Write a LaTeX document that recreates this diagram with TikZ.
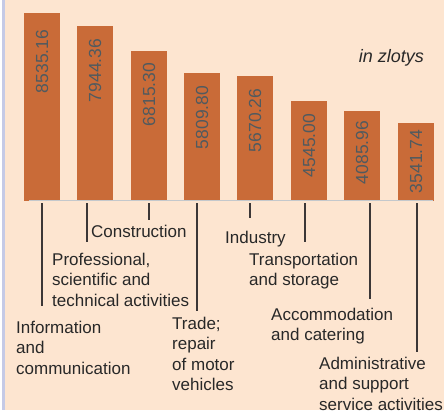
\documentclass[tikz,border=0pt]{standalone}
\usepackage{fontspec}
\setmainfont{Liberation Sans}
\definecolor{bgc}{RGB}{253,229,208}
\definecolor{barc}{RGB}{201,107,56}
\definecolor{numc}{RGB}{80,90,95}
\definecolor{labc}{RGB}{40,40,40}
\definecolor{edgec}{RGB}{197,202,230}
\definecolor{axisc}{RGB}{196,200,204}
\definecolor{tickc}{RGB}{60,55,55}
\begin{document}
\begin{tikzpicture}[x=1pt,y=-1pt,
  bar/.style={rectangle, fill=barc, draw=none, inner sep=0, minimum width=36pt, anchor=south},
  num/.style={rotate=90, anchor=east, inner sep=0, text=numc, font=\fontsize{17.5}{20}\selectfont},
  lab/.style={anchor=north west, inner sep=0, align=left, text=labc, font=\fontsize{17}{20.5}\selectfont},
  tickln/.style={draw=tickc, line width=1.3pt, shorten <=2pt}]
\useasboundingbox (0,0) rectangle (444,410);
\fill[white] (0,0) rectangle (444,410);
\fill[bgc] (2.3,0) rectangle (444,410);
\fill[edgec] (2.3,0) rectangle (5,410);
% bars
\node[bar, minimum height=188pt] (b1) at (42,201) {};
\node[bar, minimum height=175pt] (b2) at (95,201) {};
\node[bar, minimum height=150pt] (b3) at (149,201) {};
\node[bar, minimum height=128pt] (b4) at (202,201) {};
\node[bar, minimum height=125pt] (b5) at (255,201) {};
\node[bar, minimum height=100pt] (b6) at (309,201) {};
\node[bar, minimum height=90pt] (b7) at (362,201) {};
\node[bar, minimum height=78pt] (b8) at (416,201) {};
% values
\node[num] (v1) at ([yshift=-17pt]b1.north) {8535.16};
\node[num] (v2) at ([yshift=-13pt]b2.north) {7944.36};
\node[num] (v3) at ([yshift=-12pt]b3.north) {6815.30};
\node[num] (v4) at ([yshift=-13pt]b4.north) {5809.80};
\node[num] (v5) at ([yshift=-13pt]b5.north) {5670.26};
\node[num] (v6) at ([yshift=-13pt]b6.north) {4545.00};
\node[num] (v7) at ([yshift=-10pt]b7.north) {4085.96};
\node[num] (v8) at ([yshift=-7pt]b8.north) {3541.74};
% axis line
\coordinate (ax0) at (29,200.5);
\coordinate (ax1) at (433,200.5);
\draw[draw=axisc, line width=1.5pt] (ax0) -- (ax1);
% unit
\node[anchor=base east, inner sep=0, text=labc, font=\fontsize{18}{20}\selectfont\itshape] (unit) at (424,62) {in zlotys};
% tick ends
\coordinate (t1) at (42,306);
\coordinate (t2) at (87,242);
\coordinate (t3) at (149,220);
\coordinate (t4) at (197,311);
\coordinate (t5) at (250,218);
\coordinate (t6) at (305,242);
\coordinate (t7) at (370,299);
\coordinate (t8) at (417,352);
\draw[tickln] (b1.south -| t1) -- (t1);
\draw[tickln] (b2.south -| t2) -- (t2);
\draw[tickln] (b3.south -| t3) -- (t3);
\draw[tickln] (b4.south -| t4) -- (t4);
\draw[tickln] (b5.south -| t5) -- (t5);
\draw[tickln] (b6.south -| t6) -- (t6);
\draw[tickln] (b7.south -| t7) -- (t7);
\draw[tickln] (b8.south -| t8) -- (t8);
% labels
\node[lab] (l3) at (91,222.6) {\strut Construction};
\node[lab] (l2) at (52,250.6) {\strut Professional,\\scientific and\\technical activities};
\node[lab] (l1) at (16,318.6) {\strut Information\\and\\communication};
\node[lab] (l4) at (172,314.6) {\strut Trade;\\repair\\of motor\\vehicles};
\node[lab] (l5) at (225,228.6) {\strut Industry};
\node[lab] (l6) at (249,250.6) {\strut Transportation\\and storage};
\node[lab] (l7) at (271,305.6) {\strut Accommodation\\and catering};
\node[lab] (l8) at (319,354.6) {\strut Administrative\\and support\\service activities};
\end{tikzpicture}
\end{document}
